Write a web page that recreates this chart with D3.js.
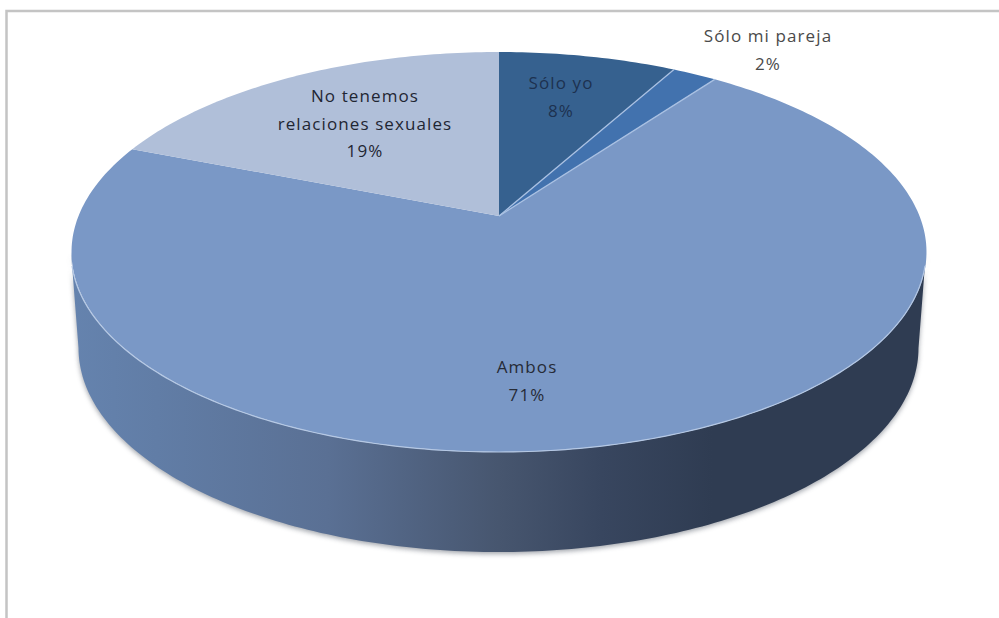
<!DOCTYPE html>
<html lang="es">
<head>
<meta charset="utf-8">
<script src="https://cdnjs.cloudflare.com/ajax/libs/d3/7.8.5/d3.min.js"></script>
<style>
html,body{margin:0;padding:0;background:#fff}
svg{display:block}
text{font-family:"Open Sans",Lato,sans-serif;font-size:17px;letter-spacing:1.1px;text-anchor:middle}
</style>
</head>
<body>
<script>
// Share of answers per slice, clockwise from twelve o'clock
const categories = ["Sólo yo", "Sólo mi pareja", "Ambos", "No tenemos relaciones sexuales"];
const values = [8, 2, 71, 19];
const percentLabels = ["8%", "2%", "71%", "19%"];
const labelLines = [["Sólo yo"], ["Sólo mi pareja"], ["Ambos"], ["No tenemos", "relaciones sexuales"]];
const sliceColors = ["#36618f", "#4272ae", "#7a98c6", "#b0bfd9"];
const labelColors = ["#1d3150", "#4a4a4a", "#262b36", "#1f2633"];
const labelAnchors = [[561, 89], [768, 42], [527, 373], [365, 102]];

const width = 999, height = 618;
const svg = d3.select("body").append("svg").attr("width", width).attr("height", height);

const defs = svg.append("defs");
const wallGradient = defs.append("linearGradient").attr("id", "wall")
  .attr("gradientUnits", "userSpaceOnUse").attr("x1", 71).attr("x2", 926).attr("y1", 0).attr("y2", 0);
[[0, "#6583ae"], [0.1, "#617da6"], [0.3, "#5a7094"], [0.5, "#47566f"],
 [0.62, "#38465f"], [0.75, "#2f3c52"], [1, "#2f3c52"]]
  .forEach(([o, c]) => wallGradient.append("stop").attr("offset", o).attr("stop-color", c));
defs.append("filter").attr("id", "soft").attr("x", "-5%").attr("y", "-5%").attr("width", "110%").attr("height", "110%")
  .append("feGaussianBlur").attr("stdDeviation", 2.5);

// Chart frame
svg.append("rect").attr("x", 6.5).attr("y", 11).attr("width", 1000).attr("height", 700)
  .attr("fill", "#fff").attr("stroke", "#c4c4c4").attr("stroke-width", 2.5);

// Tilted pie: circle-to-ellipse perspective with the apex above the ellipse centre
const apex = [499, 216], spreadX = 420.5, spreadY = 193.5, tilt = 0.18;
function project(angle) {
  const px = Math.sin(angle), py = -Math.cos(angle);
  const w = 1 - tilt * py;
  return [apex[0] + spreadX * px / w, apex[1] + spreadY * py / w];
}

// Top and bottom rims of the disc, used for the side wall
const topRim = {cx: 498.5, cy: 252, rx: 427.5, ry: 200};
const bottomRim = {cx: 498.5, cy: 348, rx: 420, ry: 204};
const line = d3.line();
const halfTurn = d3.range(0, 1.0001, 1 / 180).map(d => d * Math.PI);
const rimPoint = (r, t) => [r.cx - r.rx * Math.cos(t), r.cy + r.ry * Math.sin(t)];
const wallPoints = halfTurn.map(t => rimPoint(topRim, t))
  .concat(halfTurn.slice().reverse().map(t => rimPoint(bottomRim, t)));

svg.append("path").attr("d", line(wallPoints) + "Z")
  .attr("transform", "translate(0,2)")
  .attr("fill", "#555c68").attr("opacity", 0.55).attr("filter", "url(#soft)");
svg.append("path").attr("d", line(wallPoints) + "Z").attr("fill", "url(#wall)");

// Top face
const pie = d3.pie().sort(null).value(d => d)(values);
const faces = svg.append("g");
const slicePath = d => {
  const n = Math.max(2, Math.ceil((d.endAngle - d.startAngle) * 60));
  const rim = d3.range(n + 1).map(i => project(d.startAngle + (d.endAngle - d.startAngle) * i / n));
  return line([apex, ...rim]) + "Z";
};
faces.selectAll("path").data(pie).join("path")
  .attr("d", slicePath)
  .attr("fill", (d, i) => sliceColors[i]);

// Pale seams along the narrow slice and the front rim
faces.selectAll("path.seam").data([pie[1].startAngle, pie[1].endAngle]).join("path")
  .attr("class", "seam")
  .attr("d", a => line([apex, project(a)]))
  .attr("fill", "none").attr("stroke", "#a9c0e2").attr("stroke-width", 1.3);
svg.append("path").attr("d", line(halfTurn.slice(4, 177).map(t => rimPoint(topRim, t))))
  .attr("fill", "none").attr("stroke", "#b5c8e4").attr("stroke-width", 1.2);

// Data labels
const labels = svg.append("g").selectAll("text").data(categories).join("text")
  .attr("fill", (d, i) => labelColors[i]);
labels.each(function (d, i) {
  const t = d3.select(this);
  [...labelLines[i], percentLabels[i]].forEach((s, k) => {
    t.append("tspan").attr("x", labelAnchors[i][0]).attr("y", labelAnchors[i][1] + k * 27.6).text(s);
  });
});
</script>
</body>
</html>
